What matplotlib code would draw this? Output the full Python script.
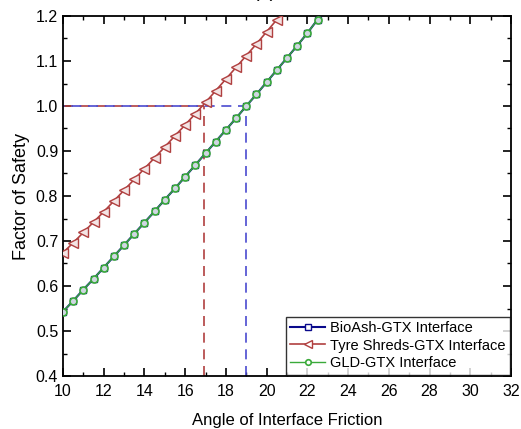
import numpy as np
import matplotlib
matplotlib.use('Agg')
import matplotlib.pyplot as plt
from matplotlib.ticker import MultipleLocator

plt.rcParams['font.family'] = ['Liberation Sans', 'DejaVu Sans']

# angle of interface friction (deg)
angle = [10, 10.5, 11, 11.5, 12, 12.5, 13, 13.5, 14, 14.5, 15, 15.5, 16,
         16.5, 17, 17.5, 18, 18.5, 19, 19.5, 20, 20.5, 21, 21.5, 22, 22.5]
angle_tyre = angle[:22]

fs_bioash = [0.543, 0.567, 0.592, 0.616, 0.641, 0.666, 0.691, 0.716, 0.741,
             0.766, 0.792, 0.817, 0.843, 0.869, 0.895, 0.921, 0.947, 0.973,
             1.000, 1.026, 1.053, 1.080, 1.107, 1.134, 1.162, 1.192]
fs_gld = [0.543, 0.567, 0.592, 0.616, 0.641, 0.666, 0.691, 0.716, 0.741,
          0.766, 0.792, 0.817, 0.843, 0.869, 0.895, 0.921, 0.947, 0.973,
          1.000, 1.026, 1.053, 1.080, 1.107, 1.134, 1.162, 1.192]
fs_tyre = [0.674, 0.696, 0.719, 0.742, 0.765, 0.789, 0.813, 0.837, 0.861,
           0.885, 0.909, 0.934, 0.958, 0.983, 1.008, 1.034, 1.060, 1.086,
           1.112, 1.138, 1.165, 1.192]

# angles where FS = 1
crit_tyre = 16.9
crit_bioash = 19.0

blue = '#0a0a8c'
red = '#b04040'
green = '#3aaa3a'

fig = plt.figure(figsize=(5.21, 4.29), dpi=100)
ax = fig.add_axes([63/521, 1 - 376/429, 448/521, 360/429])

# FS = 1 guide lines
ax.plot([10, crit_tyre], [1, 1], ls=(0, (6, 4)), color=red, lw=1.2)
ax.plot([crit_tyre, crit_tyre], [0.4, 1], ls=(0, (6, 4)), color=red, lw=1.2)
ax.plot([10, crit_bioash], [1, 1], ls=(5, (6, 4)), color='#4a4ad0', lw=1.2)
ax.plot([crit_bioash, crit_bioash], [0.4, 1], ls=(0, (6, 4)), color='#4a4ad0', lw=1.2)

ax.plot(angle, fs_bioash, color=blue, lw=1.5, marker='s', ms=5,
        mfc='white', mec=blue, mew=1, label='BioAsh-GTX Interface', zorder=3)
ax.plot(angle_tyre, fs_tyre, color=red, lw=1.2, marker='<', ms=6.5,
        mfc='#f4e4e4', mec=red, mew=1, label='Tyre Shreds-GTX Interface', zorder=3)
ax.plot(angle, fs_gld, color=green, lw=1.0, marker='o', ms=5,
        mfc='#cfd6e2', mec=green, mew=1.2, label='GLD-GTX Interface', zorder=4)

ax.set_xlim(10, 32)
ax.set_ylim(0.4, 1.2)
ax.xaxis.set_major_locator(MultipleLocator(2))
ax.xaxis.set_minor_locator(MultipleLocator(1))
ax.yaxis.set_major_locator(MultipleLocator(0.1))
ax.yaxis.set_minor_locator(MultipleLocator(0.05))
ax.yaxis.set_major_formatter(plt.FormatStrFormatter('%.1f'))
ax.tick_params(which='both', direction='in', top=True, right=True, labelsize=11.5)
ax.tick_params(axis='x', pad=6)
ax.tick_params(which='major', length=6, width=1.2)
ax.tick_params(which='minor', length=3, width=1)
for s in ax.spines.values():
    s.set_linewidth(1.3)

ax.set_xlabel('Angle of Interface Friction', fontsize=12, labelpad=10)
ax.set_ylabel('Factor of Safety', fontsize=13, labelpad=4)

leg = ax.legend(loc='lower right', fontsize=10.5, frameon=True, fancybox=False,
                borderaxespad=0.1, handlelength=2.4, handletextpad=0.3,
                labelspacing=0.25, borderpad=0.3, markerscale=0.8)
leg.get_frame().set_edgecolor('black')
leg.get_frame().set_linewidth(1.0)
for h in leg.legend_handles:
    h.set_markerfacecolor('white')

fig.text(265/521, 1.006, '(a)', ha='center', va='baseline', fontsize=14)

fig.savefig('out.png', dpi=100)
